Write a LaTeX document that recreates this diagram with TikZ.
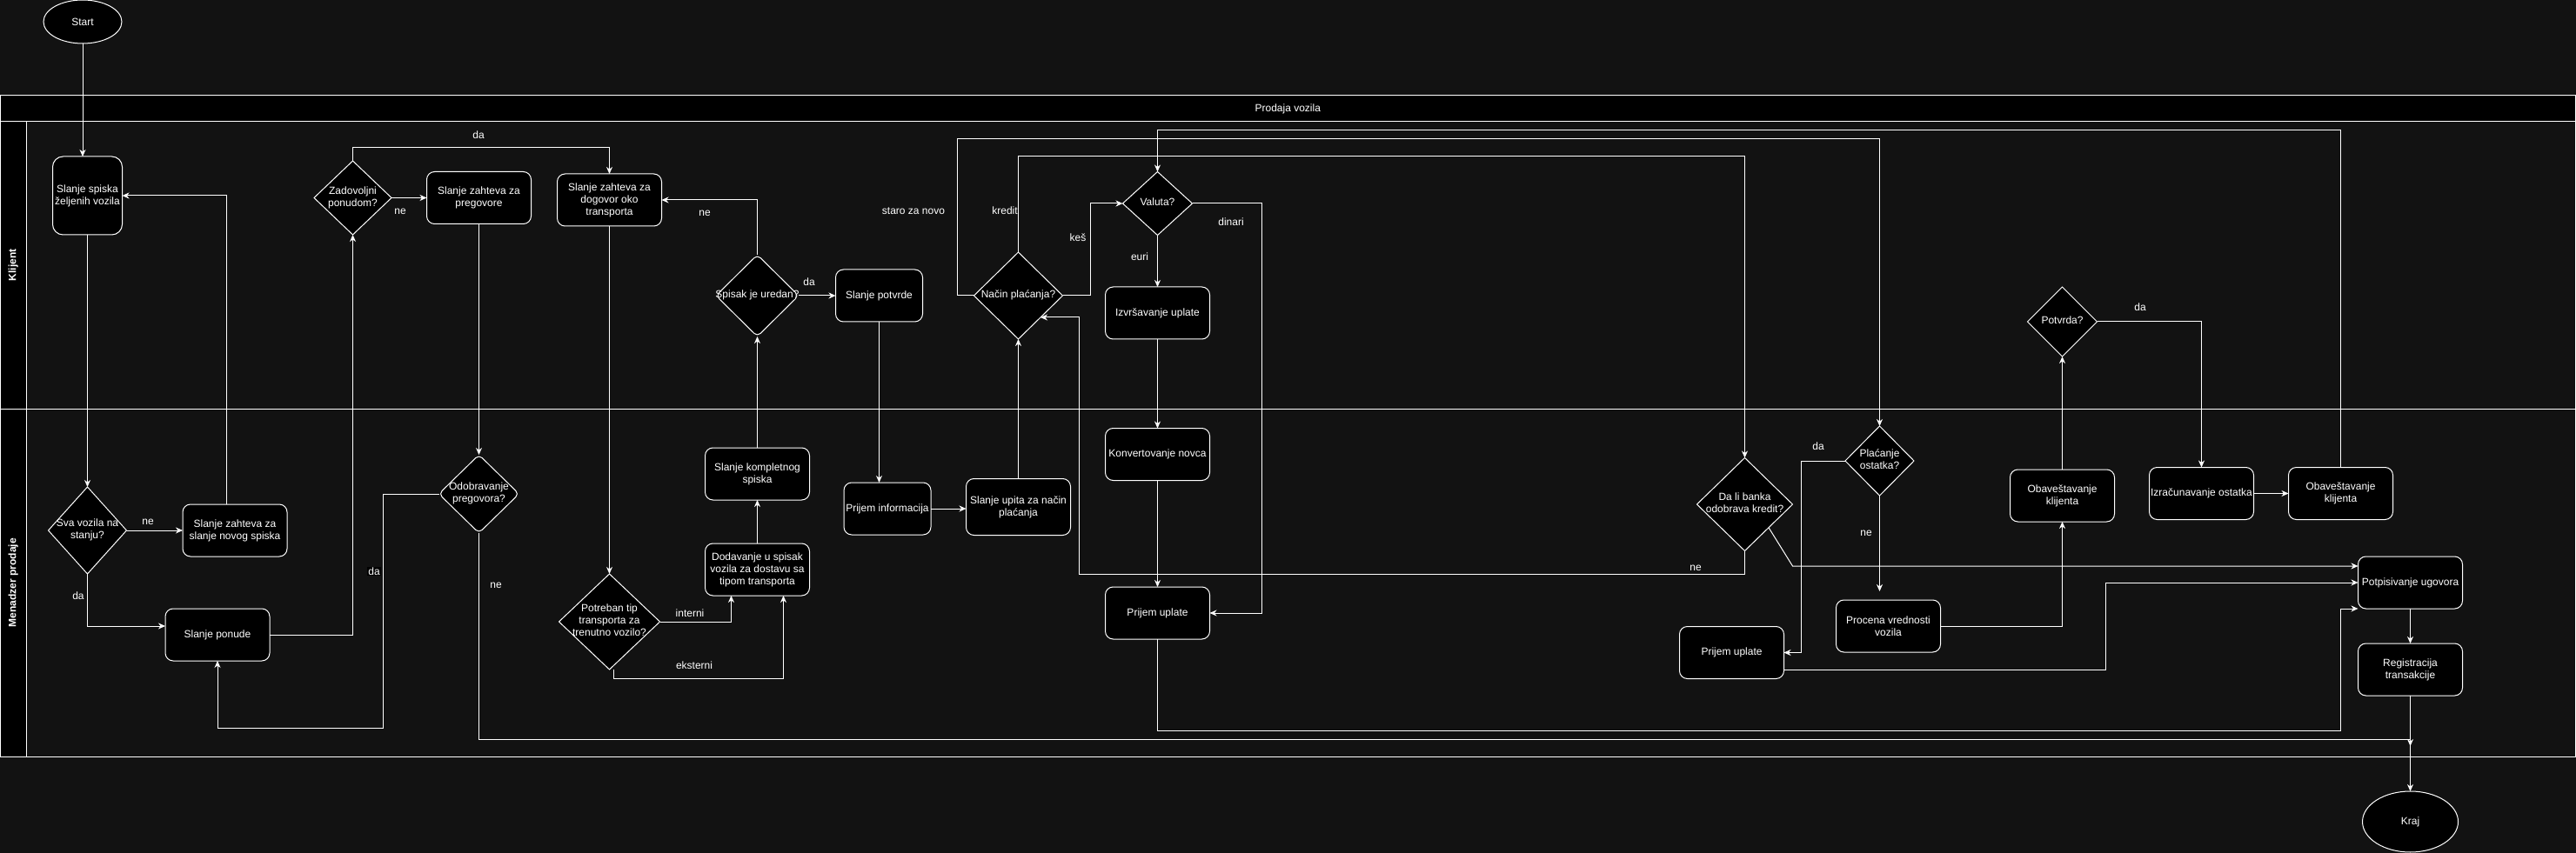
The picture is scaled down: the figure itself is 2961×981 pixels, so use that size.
\documentclass[tikz,border=0pt]{standalone}
\usepackage{fontspec}
\setmainfont{Liberation Sans}
\usetikzlibrary{shapes.geometric,arrows.meta}
\definecolor{bgdark}{HTML}{121212}
\tikzset{
  pool head/.style={draw=white, fill=black, text=white, line width=1pt, inner sep=0pt, outer sep=0pt},
  proc/.style={draw=white, fill=black, text=white, rounded corners=9pt, line width=1pt,
    minimum width=120pt, minimum height=60pt, align=center, inner sep=0pt, outer sep=0pt},
  decision/.style={diamond, draw=white, fill=black, text=white, line width=1pt, inner sep=0pt, outer sep=0pt},
  term/.style={ellipse, draw=white, fill=black, text=white, line width=1pt, inner sep=0pt, outer sep=0pt},
  conn/.style={draw=white, line width=1pt, ->},
  lbl/.style={text=white, inner sep=1pt},
  >={Stealth[length=8pt,width=7pt,inset=2.5pt]},
}
% text of a diamond, kept out of the shape size
\newcommand{\dq}[1]{\makebox[0pt]{\smash{\raisebox{-.25em}{\begin{tabular}{@{}c@{}}#1\end{tabular}}}}}
\begin{document}
\begin{tikzpicture}[x=1pt, y=-1pt, font=\fontsize{12}{14}\selectfont]
    \useasboundingbox (0,0) rectangle (2961,981);
    \fill [bgdark] (0,0) rectangle (2961,981);
    % pool and lanes
    \node [pool head, minimum width=2959.5pt, minimum height=30pt] (P0_0) at (1480.25,125) {Prodaja vozila};
    \node [pool head, rotate=90, minimum width=330pt, minimum height=29.5pt] (P1_0) at (15.25,305) {\bfseries Klijent};
    \node [pool head, rotate=90, minimum width=400pt, minimum height=29.5pt] (P2_0) at (15.25,670) {\bfseries Menadzer prodaje};
    \draw [white, line width=1pt] (0.5,140) rectangle (2960,470);
    \draw [white, line width=1pt] (0.5,470) rectangle (2960,870);
    % start and end
    \node [term, minimum width=90pt, minimum height=50pt] (E0_0) at (95,25) {Start};
    \node [term, minimum width=110pt, minimum height=70pt] (E1_0) at (2770.5,945) {Kraj};
    % Klijent
    \node [proc, rounded corners=12pt, minimum width=80pt, minimum height=90pt] (A0_0) at (100.5,225) {Slanje spiska\\željenih vozila};
    \node [decision, minimum width=89pt, minimum height=85pt] (A0_1) at (405.5,227.5) {\dq{Zadovoljni\\ponudom?}};
    \node [proc] (A0_2) at (550.5,227.5) {Slanje zahteva za\\pregovore};
    \node [proc] (A0_3) at (700.5,230) {Slanje zahteva za\\dogovor oko\\transporta};
    \node [decision, rounded corners=5pt, minimum width=95pt, minimum height=94pt] (A0_4) at (870.5,340) {\dq{Spisak je uredan?}};
    \node [proc, minimum width=100pt] (A0_5) at (1010.5,340) {Slanje potvrde};
    \node [decision, minimum width=102pt, minimum height=100pt] (A0_6) at (1170.5,340) {\dq{Način plaćanja?}};
    \node [decision, minimum width=80pt, minimum height=73pt] (A0_7) at (1330.5,234) {\dq{Valuta?}};
    \node [proc] (A0_8) at (1330.5,360) {Izvršavanje uplate};
    \node [decision, minimum width=80pt, minimum height=80pt] (A0_9) at (2370.5,370) {\dq{Potvrda?}};
    % Menadzer prodaje
    \node [decision, minimum width=90pt, minimum height=100pt] (A1_0) at (100.5,610) {\dq{Sva vozila na\\stanju?}};
    \node [proc] (A1_1) at (270,610) {Slanje zahteva za\\slanje novog spiska};
    \node [proc] (A1_2) at (250,730) {Slanje ponude};
    \node [decision, rounded corners=5pt, minimum width=92pt, minimum height=90pt] (A1_3) at (550.5,568) {\dq{Odobravanje\\pregovora?}};
    \node [decision, minimum width=116pt, minimum height=110pt] (A1_4) at (700.5,715) {\dq{Potreban tip\\transporta za\\trenutno vozilo?}};
    \node [proc] (A1_5) at (870.5,655) {Dodavanje u spisak\\vozila za dostavu sa\\tipom transporta};
    \node [proc] (A1_6) at (870.5,545) {Slanje kompletnog\\spiska};
    \node [proc, minimum width=100pt] (A1_7) at (1020,585) {Prijem informacija};
    \node [proc, minimum height=65pt] (A1_8) at (1170.5,583) {Slanje upita za način\\plaćanja};
    \node [proc] (A1_9) at (1330.5,522.5) {Konvertovanje novca};
    \node [proc] (A1_10) at (1330.5,705) {Prijem uplate};
    \node [decision, minimum width=110pt, minimum height=107pt] (A1_11) at (2005.5,580) {\dq{Da li banka\\odobrava kredit?}};
    \node [decision, minimum width=79pt, minimum height=80pt] (A1_12) at (2160.5,530) {\dq{Plaćanje\\ostatka?}};
    \node [proc] (A1_13) at (1990.5,750.5) {Prijem uplate};
    \node [proc] (A1_14) at (2170.5,720) {Procena vrednosti\\vozila};
    \node [proc] (A1_15) at (2370.5,570) {Obaveštavanje\\klijenta};
    \node [proc] (A1_16) at (2530.5,567.5) {Izračunavanje ostatka};
    \node [proc] (A1_17) at (2690.5,567.5) {Obaveštavanje\\klijenta};
    \node [proc] (A1_18) at (2770.5,670) {Potpisivanje ugovora};
    \node [proc] (A1_19) at (2770.5,770) {Registracija\\transakcije};
    \coordinate (C0) at (2770.5,858);
    % connectors
    \path (E0_0.south) edge [conn] (E0_0.south |- A0_0.north);
    \path (A0_0.south) edge [conn] (A1_0.north);
    \path (A1_0.east) edge [conn] (A1_1.west);
    \draw [conn] (A1_0.south) |- ([yshift=10pt]A1_2.west);
    \draw [conn] ([xshift=-10pt]A1_1.north) |- (A0_0.east);
    \draw [conn] (A1_2.east) -| (A0_1.south);
    \path (A0_1.east) edge [conn] (A0_2.west);
    \draw [conn] (A0_1.north) -- ++(0,-15) -| (A0_3.north);
    \path (A0_2.south) edge [conn] (A1_3.north);
    \draw [conn] (A1_3.west) -- ++(-64,0) -- ++(0,269) -| (A1_2.south);
    \draw [conn] (A1_3.south) -- ++(0,237) -| (C0);
    \path (A0_3.south) edge [conn] (A1_4.north);
    \draw [conn] (A1_4.east) -| ([xshift=-30pt]A1_5.south);
    \draw [conn] ([xshift=5pt]A1_4.south) -- ++(0,10) -| ([xshift=30pt]A1_5.south);
    \path (A1_5.north) edge [conn] (A1_6.south);
    \path (A1_6.north) edge [conn] (A0_4.south);
    \draw [conn] (A0_4.north) |- (A0_3.east);
    \path (A0_4.east) edge [conn] (A0_5.west);
    \path (A0_5.south) edge [conn] (A0_5.south |- A1_7.north);
    \path (A1_7.east) edge [conn] (A1_7.east -| A1_8.west);
    \path (A1_8.north) edge [conn] (A0_6.south);
    \draw [conn] (A0_6.east) -- ++(32,0) |- (A0_7.west);
    \draw [conn] (A0_6.north) -- ++(0,-110) -| (A1_11.north);
    \draw [conn] (A0_6.west) -- ++(-19.5,0) -- ++(0,-180) -| (A1_12.north);
    \path (A0_7.south) edge [conn] (A0_8.north);
    \draw [conn] (A0_7.east) -- ++(80,0) |- (A1_10.east);
    \path (A0_8.south) edge [conn] (A1_9.north);
    \path (A1_9.south) edge [conn] (A1_10.north);
    \draw [conn] (A1_10.south) |- (2690.5,840) |- ([yshift=-30pt]A1_18.west);
    \draw [conn] (A1_11.south) |- (1240,660) |- (A0_6.south east);
    \draw [conn] (A1_11.south east) -- (2060.5,651) -- ([yshift=19pt]A1_18.west);
    \draw [conn] (A1_12.west) -- ++(-50.5,0) |- (A1_13.east);
    \path (A1_12.south) edge [conn] ([yshift=10pt]A1_12.south |- A1_14.north);
    \draw [conn] (A1_14.east) -| (A1_15.south);
    \path (A1_15.north) edge [conn] (A0_9.south);
    \draw [conn] (A0_9.east) -| (A1_16.north);
    \path (A1_16.east) edge [conn] (A1_17.west);
    \draw [conn] (A1_17.north) -- ++(0,-388) -| (A0_7.north);
    \draw [conn] ([yshift=-20pt]A1_13.east) -- ++(370,0) |- (A1_18.west);
    \path (A1_18.south) edge [conn] (A1_19.north);
    \path (A1_19.south) edge [conn] (E1_0.north);
    % labels
    \node [lbl] (L0) at (550,155) {da};
    \node [lbl] (L1) at (460,243) {ne};
    \node [lbl] (L2) at (170,600) {ne};
    \node [lbl] (L3) at (90,685) {da};
    \node [lbl, fill=black] (L4) at (430,657) {da};
    \node [lbl] (L5) at (570,673) {ne};
    \node [lbl] (L6) at (793,705) {interni};
    \node [lbl] (L7) at (798,765) {eksterni};
    \node [lbl] (L8) at (810,245) {ne};
    \node [lbl] (L9) at (930,324) {da};
    \node [lbl] (L10) at (1050,243) {staro za novo};
    \node [lbl] (L11) at (1155,242) {kredit};
    \node [lbl] (L12) at (1239,273) {keš};
    \node [lbl] (L13) at (1310,295) {euri};
    \node [lbl] (L14) at (1415,255) {dinari};
    \node [lbl] (L15) at (1949,653) {ne};
    \node [lbl] (L16) at (2090,513) {da};
    \node [lbl] (L17) at (2145,613) {ne};
    \node [lbl] (L18) at (2460,353) {da};
\end{tikzpicture}
\end{document}
